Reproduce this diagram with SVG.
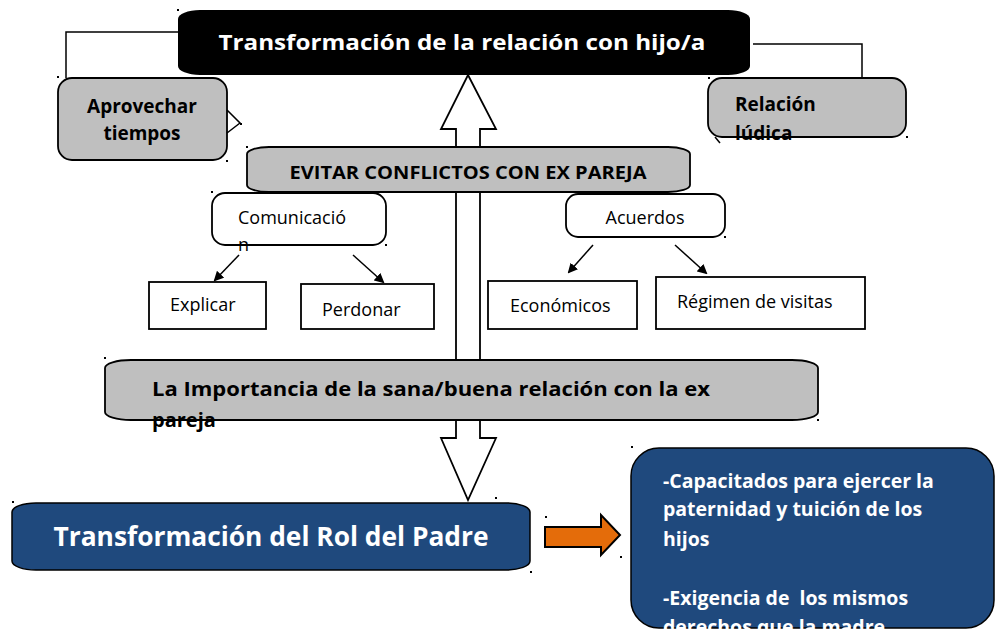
<svg xmlns="http://www.w3.org/2000/svg" width="995" height="631" viewBox="0 0 995 631">
<style>
.t{font-family:"Open Sans","Liberation Sans",sans-serif}
.b{font-weight:bold}
.gray{fill:#bfbfbf;stroke:#000;stroke-width:1.8}
.wbox{fill:#fff;stroke:#000;stroke-width:1.8}
.blue{fill:#1f497d;stroke:#000;stroke-width:1.5}
.ln{fill:none;stroke:#000;stroke-width:1.5}
.dot{fill:#000}
.pre{white-space:pre}
</style>
<defs>
<marker id="ah" markerWidth="10" markerHeight="10" refX="8" refY="5" orient="auto" markerUnits="userSpaceOnUse" viewBox="0 0 10 10">
<path d="M0,0 L10,5 L0,10 Z" fill="#000"/>
</marker>
</defs>
<rect width="995" height="631" fill="#fff"/>

<g id="connectors">
<polyline class="ln" points="178,32 66,32 66,78"/>
<polyline class="ln" points="753,44 862,44 862,78"/>
<path d="M468,75 L496,129 L480,129 L480,438 L496,438 L468,500 L441,438 L456,438 L456,129 L441,129 Z" fill="#fff" stroke="#000" stroke-width="1.8"/>
<line class="ln" x1="239" y1="255" x2="215" y2="280" marker-end="url(#ah)" stroke-width="2"/>
<line class="ln" x1="353" y1="255" x2="383" y2="282" marker-end="url(#ah)" stroke-width="2"/>
<line class="ln" x1="593" y1="245" x2="569" y2="272" marker-end="url(#ah)" stroke-width="2"/>
<line class="ln" x1="675" y1="245" x2="706" y2="273" marker-end="url(#ah)" stroke-width="2"/>
<path d="M545,527 L601,527 L601,515 L620,535 L601,555 L601,547 L545,547 Z" fill="#e46c0a" stroke="#000" stroke-width="2"/>
</g>

<g id="top-title">
<rect x="178" y="10" width="572" height="65" rx="22" ry="9" fill="#000"/>
<text class="t b" x="462" y="50" font-size="22" fill="#fff" text-anchor="middle" textLength="487" lengthAdjust="spacingAndGlyphs">Transformación de la relación con hijo/a</text>
</g>

<g id="aprovechar">
<rect class="gray" x="58" y="78" width="169" height="82" rx="14"/>
<polyline class="ln" points="227,110 240,123 227,133"/>
<text class="t b" x="142" y="113" font-size="19" text-anchor="middle">Aprovechar</text>
<text class="t b" x="142" y="140" font-size="19" text-anchor="middle">tiempos</text>
</g>

<g id="relacion-ludica">
<rect class="gray" x="708" y="78" width="198" height="59" rx="14"/>
<polyline class="ln" points="715,137 720,143"/>
<text class="t b" x="735" y="111" font-size="19">Relación</text>
<text class="t b" x="735" y="140" font-size="19">lúdica</text>
</g>

<g id="evitar">
<rect class="gray" x="247" y="147" width="443" height="45" rx="22" ry="7"/>
<text class="t b" x="468" y="179" font-size="18" text-anchor="middle" textLength="357" lengthAdjust="spacingAndGlyphs">EVITAR CONFLICTOS CON EX PAREJA</text>
</g>

<g id="comunicacion">
<rect class="wbox" x="212" y="193" width="174" height="52" rx="13"/>
<text class="t" x="238" y="224" font-size="18">Comunicació</text>
<text class="t" x="238" y="251" font-size="18">n</text>
</g>

<g id="acuerdos">
<rect class="wbox" x="566" y="194" width="159" height="43" rx="12"/>
<text class="t" x="645" y="224" font-size="18" text-anchor="middle">Acuerdos</text>
</g>

<g id="explicar">
<rect class="wbox" x="149" y="282" width="117" height="47"/>
<text class="t" x="170" y="311" font-size="18">Explicar</text>
</g>

<g id="perdonar">
<rect class="wbox" x="301" y="284" width="133" height="45"/>
<text class="t" x="322" y="316" font-size="18">Perdonar</text>
</g>

<g id="economicos">
<rect class="wbox" x="488" y="281" width="149" height="48"/>
<text class="t" x="510" y="312" font-size="18">Económicos</text>
</g>

<g id="regimen">
<rect class="wbox" x="656" y="277" width="209" height="52"/>
<text class="t" x="677" y="308" font-size="18">Régimen de visitas</text>
</g>

<g id="importancia">
<rect class="gray" x="105" y="360" width="713" height="60" rx="26" ry="8"/>
<text class="t b" x="152" y="396" font-size="20" textLength="558" lengthAdjust="spacingAndGlyphs">La Importancia de la sana/buena relación con la ex</text>
<text class="t b" x="152" y="427" font-size="20">pareja</text>
</g>

<g id="rol-padre">
<rect class="blue" x="12" y="503" width="518" height="67" rx="24" ry="9"/>
<text class="t b" x="271" y="546" font-size="26" fill="#fff" text-anchor="middle" textLength="435" lengthAdjust="spacingAndGlyphs">Transformación del Rol del Padre</text>
</g>

<g id="capacitados">
<rect class="blue" x="631" y="448" width="363" height="180" rx="28"/>
<g class="t b" font-size="19.5" fill="#fff">
<text x="663" y="488">-Capacitados para ejercer la</text>
<text x="663" y="516">paternidad y tuición de los</text>
<text x="663" y="546">hijos</text>
<text class="pre" x="663" y="605">-Exigencia de  los mismos</text>
<text x="663" y="634">derechos que la madre</text>
</g>
</g>

<g id="handles">
<rect class="dot" x="177" y="9" width="2" height="2"/>
<rect class="dot" x="57" y="76" width="2" height="2"/>
<rect class="dot" x="240" y="123" width="2" height="2"/>
<rect class="dot" x="226" y="160" width="2" height="2"/>
<rect class="dot" x="246" y="146" width="2" height="2"/>
<rect class="dot" x="211" y="191" width="2" height="2"/>
<rect class="dot" x="385" y="244" width="2" height="2"/>
<rect class="dot" x="724" y="236" width="2" height="2"/>
<rect class="dot" x="906" y="136" width="2" height="2"/>
<rect class="dot" x="708" y="77" width="2" height="2"/>
<rect class="dot" x="104" y="357" width="2" height="2"/>
<rect class="dot" x="817" y="419" width="2" height="2"/>
<rect class="dot" x="12" y="501" width="2" height="2"/>
<rect class="dot" x="495" y="497" width="2" height="2"/>
<rect class="dot" x="530" y="571" width="2" height="2"/>
<rect class="dot" x="545" y="516" width="2" height="2"/>
<rect class="dot" x="620" y="556" width="2" height="2"/>
<rect class="dot" x="631" y="446" width="2" height="2"/>
</g>
</svg>
